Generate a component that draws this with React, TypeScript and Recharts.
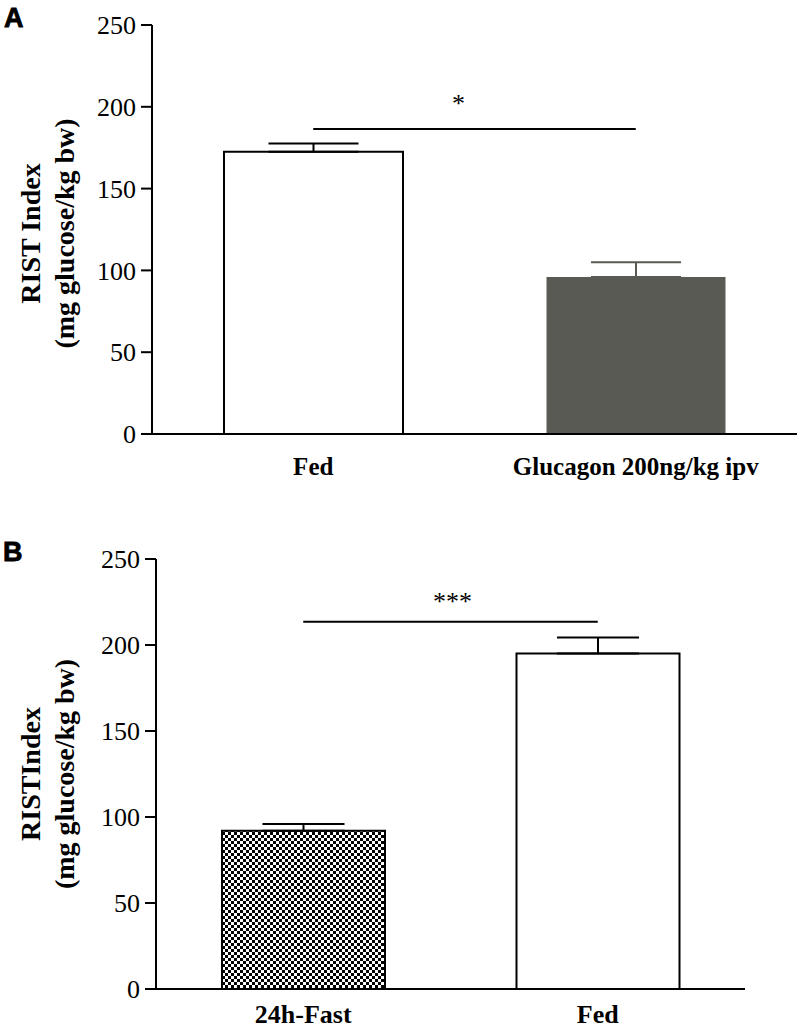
import React from "react";
import {
  BarChart,
  Bar,
  Cell,
  XAxis,
  YAxis,
  ErrorBar,
  ReferenceLine,
} from "recharts";

// panel A
const groupsA = ["Fed", "Glucagon 200ng/kg ipv"];
const meansA = [172.5, 96];
const semA = [5, 9];
// panel B
const groupsB = ["24h-Fast", "Fed"];
const meansB = [92, 195];
const semB = [4, 9.3];

const yTicks = [0, 50, 100, 150, 200, 250];

const sigA = { from: "Fed", to: "Glucagon 200ng/kg ipv", y: 186.5, text: "*" };
const sigB = { from: "24h-Fast", to: "Fed", y: 213.5, text: "***" };

const SERIF = "'Liberation Serif', 'Times New Roman', serif";

function YTitle({ viewBox, lines, dy }: any) {
  const cy = viewBox.y + viewBox.height / 2 + dy;
  return (
    <g>
      {lines.map((t: string, i: number) => {
        const x = viewBox.x + (i === 0 ? 40 : 74);
        return (
          <text
            key={i}
            x={x}
            y={cy}
            transform={`rotate(-90 ${x} ${cy})`}
            textAnchor="middle"
            fontFamily={SERIF}
            fontWeight="bold"
            fontSize={28}
            fill="#000"
          >
            {t}
          </text>
        );
      })}
    </g>
  );
}

function Stars({ viewBox, text, dx, dy }: any) {
  return (
    <text
      x={viewBox.x + viewBox.width / 2 + dx}
      y={viewBox.y - dy}
      textAnchor="middle"
      fontFamily={SERIF}
      fontSize={26}
      fill="#000"
    >
      {text}
    </text>
  );
}

const axisStroke = { stroke: "#000", strokeWidth: 2 };

const panelLetter: React.CSSProperties = {
  position: "absolute",
  fontFamily: "'Liberation Sans', Arial, sans-serif",
  fontWeight: "bold",
  fontSize: 27,
  lineHeight: "30px",
  WebkitTextStroke: "0.8px #000",
};

export default function App() {
  const dataA = groupsA.map((g, i) => ({
    name: g,
    value: meansA[i],
    errBlack: i === 0 ? [0, semA[i]] : undefined,
    errGray: i === 1 ? [0, semA[i]] : undefined,
  }));
  const dataB = groupsB.map((g, i) => ({
    name: g,
    value: meansB[i],
    err: [0, semB[i]],
  }));

  return (
    <div
      style={{
        position: "absolute",
        left: 0,
        top: 0,
        width: 800,
        height: 1031,
        background: "#fff",
      }}
    >
      <svg width={0} height={0} style={{ position: "absolute" }}>
        <defs>
          <pattern id="checker" width={6} height={6} patternUnits="userSpaceOnUse">
            <rect width={6} height={6} fill="#fff" />
            <rect x={0} y={0} width={3} height={3} fill="#000" />
            <rect x={3} y={3} width={3} height={3} fill="#000" />
          </pattern>
        </defs>
      </svg>

      <div style={{ ...panelLetter, left: 4, top: 3 }}>A</div>
      <div style={{ ...panelLetter, left: 3, top: 537 }}>B</div>

      <div style={{ position: "absolute", left: 0, top: 0 }}>
        <BarChart
          width={800}
          height={500}
          data={dataA}
          margin={{ top: 25, right: 3, left: 0, bottom: 6 }}
        >
          <XAxis
            dataKey="name"
            interval={0}
            height={60}
            tickLine={false}
            tickSize={0}
            tickMargin={23}
            axisLine={axisStroke}
            tick={{ fill: "#000", fontSize: 25, fontWeight: "bold", fontFamily: SERIF }}
          />
          <YAxis
            width={152}
            domain={[0, 250]}
            ticks={yTicks}
            tickSize={11}
            tickMargin={5}
            axisLine={axisStroke}
            tickLine={axisStroke}
            tick={{ fill: "#000", fontSize: 26, fontFamily: SERIF }}
            label={(p: any) => (
              <YTitle {...p} lines={["RIST Index", "(mg glucose/kg bw)"]} dy={4} />
            )}
          />
          <Bar dataKey="value" barSize={179} isAnimationActive={false}>
            <Cell fill="#fff" stroke="#000" strokeWidth={2} />
            <Cell fill="#5a5a54" stroke="none" />
            <ErrorBar dataKey="errBlack" width={45} stroke="#000" strokeWidth={2} />
            <ErrorBar dataKey="errGray" width={45} stroke="#5a5a54" strokeWidth={2} />
          </Bar>
          <ReferenceLine
            segment={[
              { x: sigA.from, y: sigA.y },
              { x: sigA.to, y: sigA.y },
            ]}
            stroke="#000"
            strokeWidth={2}
            label={(p: any) => <Stars {...p} text={sigA.text} dx={-16} dy={17} />}
          />
        </BarChart>
      </div>

      <div style={{ position: "absolute", left: 0, top: 520 }}>
        <BarChart
          width={800}
          height={511}
          data={dataB}
          margin={{ top: 39, right: 55, left: 0, bottom: 0 }}
        >
          <XAxis
            dataKey="name"
            interval={0}
            height={42}
            tickLine={false}
            tickSize={0}
            tickMargin={16}
            axisLine={axisStroke}
            tick={{ fill: "#000", fontSize: 26, fontWeight: "bold", fontFamily: SERIF }}
          />
          <YAxis
            width={156}
            domain={[0, 250]}
            ticks={yTicks}
            tickSize={11}
            tickMargin={5}
            axisLine={axisStroke}
            tickLine={axisStroke}
            tick={{ fill: "#000", fontSize: 26, fontFamily: SERIF }}
            label={(p: any) => (
              <YTitle {...p} lines={["RISTIndex", "(mg glucose/kg bw)"]} dy={0} />
            )}
          />
          <Bar dataKey="value" barSize={163} isAnimationActive={false}>
            <Cell fill="url(#checker)" stroke="#000" strokeWidth={2} />
            <Cell fill="#fff" stroke="#000" strokeWidth={2} />
            <ErrorBar dataKey="err" width={41} stroke="#000" strokeWidth={2} />
          </Bar>
          <ReferenceLine
            segment={[
              { x: sigB.from, y: sigB.y },
              { x: sigB.to, y: sigB.y },
            ]}
            stroke="#000"
            strokeWidth={2}
            label={(p: any) => <Stars {...p} text={sigB.text} dx={2} dy={12} />}
          />
        </BarChart>
      </div>
    </div>
  );
}
